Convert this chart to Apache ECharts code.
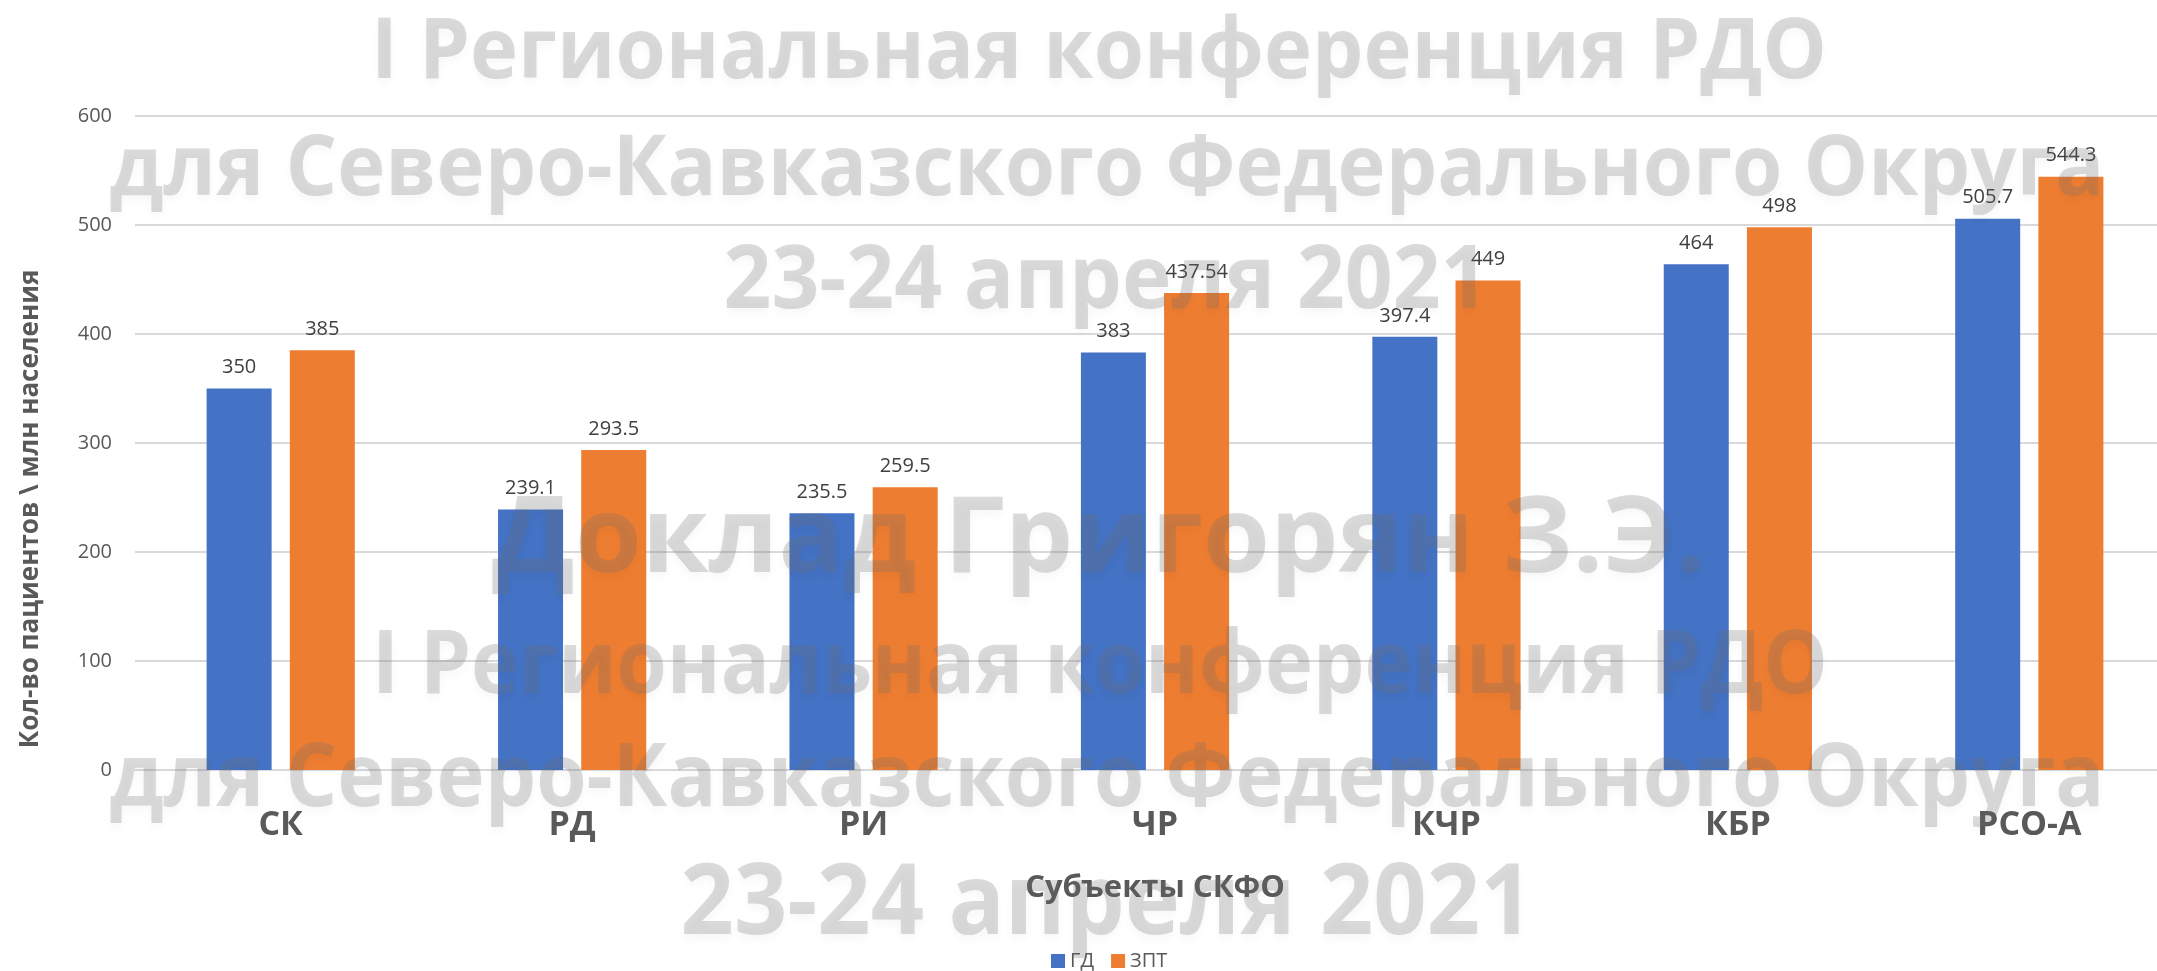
<!DOCTYPE html>
<html lang="ru">

<head>
    <meta charset="UTF-8">
    <title>Субъекты СКФО</title>
    <style>
        html,
        body {
            margin: 0;
            padding: 0;
            width: 100%;
            height: 100%;
            background: #fff;
        }

        #chart {
            width: 2157px;
            height: 971px;
        }
    </style>
</head>

<body>
    <div id="chart"></div>
    <script src="https://cdn.jsdelivr.net/npm/echarts@6/dist/echarts.min.js"></script>
    <script>
        const categories = ['СК', 'РД', 'РИ', 'ЧР', 'КЧР', 'КБР', 'РСО-А']
        const gdValues = [350, 239.1, 235.5, 383, 397.4, 464, 505.7]
        const zptValues = [385, 293.5, 259.5, 437.54, 449, 498, 544.3]
        const seriesNames = ['ГД', 'ЗПТ']

        const yTitle = 'Кол-во пациентов \\ млн населения'
        const xTitle = 'Субъекты СКФО'

        // надписи поверх диаграммы
        const watermarkLines = [
            'I Региональная конференция РДО',
            'для Северо-Кавказского Федерального Округа',
            '23-24 апреля 2021',
            'Доклад Григорян З.Э.',
            'I Региональная конференция РДО',
            'для Северо-Кавказского Федерального Округа',
            '23-24 апреля 2021'
        ]
        // [центр x, середина заглавных y, ширина, кегль]
        const watermarkBoxes = [
            [1099, 45, 1456, 84],
            [1107, 161, 1995, 85],
            [1106, 274, 765, 87],
            [1099, 530, 1214, 106],
            [1100, 658, 1456, 88],
            [1107, 771, 1995, 88],
            [1107, 895, 853, 98]
        ]

        const FONT = '"Open Sans", "Noto Sans", sans-serif'
        const ctx = document.createElement('canvas').getContext('2d')
        function textWidth(text, size) {
            ctx.font = 'bold ' + size + 'px "Open Sans"'
            return ctx.measureText(text).width
        }

        const watermark = watermarkLines.map((text, i) => {
            const [cx, cy, w, size] = watermarkBoxes[i]
            return {
                type: 'text',
                x: cx,
                y: cy + size * 0.11,
                scaleX: w / textWidth(text, size),
                z: 100,
                silent: true,
                style: {
                    text: text,
                    fontFamily: FONT,
                    fontWeight: 'bold',
                    fontSize: size,
                    fill: 'rgba(110,110,110,0.25)',
                    align: 'center',
                    verticalAlign: 'middle',
                    textShadowColor: 'rgba(0,0,0,0.12)',
                    textShadowBlur: 8,
                    textShadowOffsetY: 5
                }
            }
        })

        const chart = echarts.init(document.getElementById('chart'))

        const labelStyle = {
            show: true,
            position: 'top',
            distance: 11,
            fontFamily: FONT,
            fontSize: 20,
            color: '#404040'
        }

        chart.setOption({
            animation: false,
            backgroundColor: '#fff',
            textStyle: { fontFamily: FONT },
            grid: { left: 135, top: 116, width: 2040, bottom: 201, outerBoundsMode: 'none' },
            legend: {
                left: 1046,
                top: 946,
                itemWidth: 14,
                itemHeight: 14,
                itemGap: 17,
                icon: 'rect',
                textStyle: { fontSize: 20, color: '#595959', fontFamily: FONT },
                data: seriesNames
            },
            xAxis: {
                type: 'category',
                data: categories,
                axisLine: { lineStyle: { color: '#d9d9d9', width: 2 } },
                axisTick: { show: false },
                axisLabel: {
                    margin: 38,
                    fontSize: 34,
                    fontWeight: 'bold',
                    color: '#595959',
                    fontFamily: FONT
                },
                name: xTitle,
                nameLocation: 'middle',
                nameGap: 103,
                nameTextStyle: {
                    fontSize: 31,
                    fontWeight: 'bold',
                    color: '#595959',
                    fontFamily: FONT
                }
            },
            yAxis: {
                type: 'value',
                min: 0,
                max: 600,
                interval: 100,
                axisLine: { show: false },
                axisTick: { show: false },
                splitLine: { lineStyle: { color: '#d9d9d9', width: 2 } },
                axisLabel: {
                    margin: 23,
                    fontSize: 20,
                    color: '#595959',
                    fontFamily: FONT
                },
                name: yTitle,
                nameLocation: 'middle',
                nameRotate: 90,
                nameGap: 91,
                nameTextStyle: {
                    fontSize: 26,
                    fontWeight: 'bold',
                    color: '#595959',
                    fontFamily: FONT,
                    padding: [0, 132, 0, 0]
                }
            },
            series: [
                {
                    name: seriesNames[0],
                    type: 'bar',
                    data: gdValues,
                    barWidth: 65,
                    barGap: '28%',
                    itemStyle: { color: '#4472C4' },
                    label: labelStyle
                },
                {
                    name: seriesNames[1],
                    type: 'bar',
                    data: zptValues,
                    barWidth: 65,
                    barGap: '28%',
                    itemStyle: { color: '#ED7D31' },
                    label: labelStyle
                }
            ],
            graphic: watermark
        })
    </script>
</body>

</html>
